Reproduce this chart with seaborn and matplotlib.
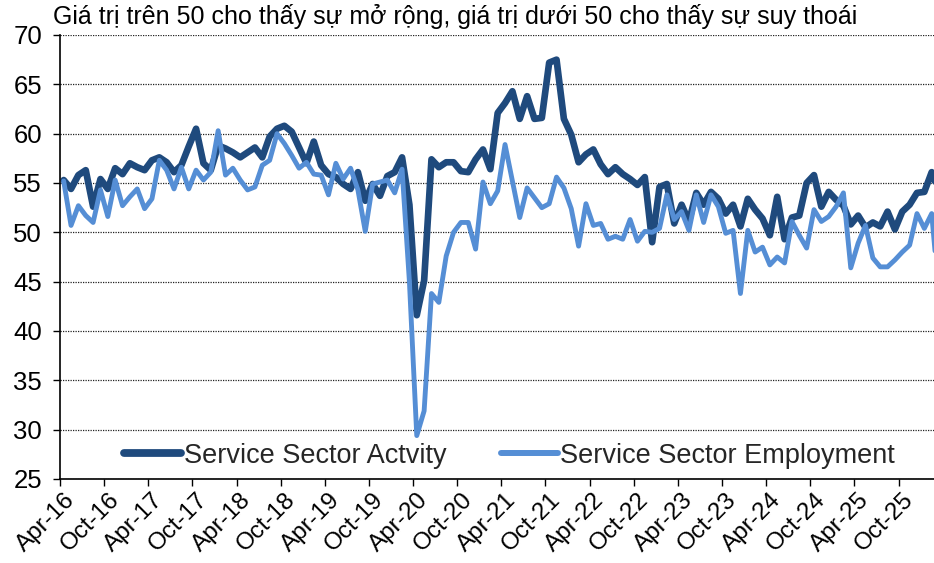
import numpy as np
import pandas as pd
import matplotlib
matplotlib.use("Agg")
import matplotlib.pyplot as plt
import seaborn as sns
from matplotlib.lines import Line2D

# ---------------- data ----------------
months = pd.date_range("2016-04-01", periods=120, freq="MS")
month_labels = [m.strftime("%b-%y") for m in months]

activity = [
    55.3, 54.4, 55.8, 56.3, 52.6, 55.4, 54.4, 56.5, 55.9, 57.0,
    56.6, 56.3, 57.3, 57.6, 57.1, 56.1, 56.8, 58.7, 60.5, 57.0,
    56.3, 58.8, 58.5, 58.1, 57.6, 58.1, 58.6, 57.6, 59.7, 60.5,
    60.8, 60.2, 58.6, 57.0, 59.2, 56.8, 55.9, 55.6, 54.9, 54.4,
    56.1, 53.2, 54.9, 53.7, 55.7, 56.1, 57.6, 52.8, 41.6, 45.1,
    57.4, 56.6, 57.1, 57.1, 56.2, 56.1, 57.4, 58.4, 56.4, 62.1,
    63.1, 64.3, 61.5, 63.8, 61.5, 61.6, 67.2, 67.5, 61.5, 59.9,
    57.1, 57.9, 58.4, 56.9, 55.9, 56.6, 55.9, 55.4, 54.8, 55.6,
    49.0, 54.6, 54.9, 50.9, 52.8, 51.1, 54.0, 52.8, 54.1, 53.4,
    51.9, 52.8, 50.6, 53.4, 52.3, 51.4, 49.7, 53.6, 49.3, 51.5,
    51.7, 55.0, 55.8, 52.6, 54.1, 53.3, 52.7, 50.8, 51.7, 50.5,
    51.0, 50.6, 52.1, 50.3, 52.1, 52.8, 54.0, 54.1, 56.1, 54.0,
]

employment = [
    55.2, 50.7, 52.7, 51.7, 51.0, 54.3, 51.6, 55.3, 52.7, 53.6,
    54.4, 52.4, 53.4, 57.3, 56.3, 54.4, 56.6, 54.4, 56.3, 55.3,
    56.1, 60.3, 55.8, 56.5, 55.3, 54.3, 54.6, 56.8, 57.3, 60.0,
    59.0, 57.8, 56.5, 57.1, 55.9, 55.8, 53.8, 57.0, 55.4, 56.5,
    54.3, 50.1, 54.9, 55.1, 55.3, 54.0, 56.4, 45.0, 29.4, 31.9,
    43.8, 42.9, 47.6, 50.0, 51.0, 51.0, 48.3, 55.1, 52.9, 54.2,
    58.9, 55.2, 51.5, 54.5, 53.5, 52.5, 52.9, 55.6, 54.5, 52.4,
    48.6, 52.9, 50.7, 50.9, 49.3, 49.6, 49.3, 51.3, 49.1, 50.1,
    50.0, 50.4, 53.8, 51.3, 52.1, 50.2, 53.8, 51.0, 53.8, 52.6,
    49.9, 50.2, 43.8, 50.2, 48.0, 48.5, 46.7, 47.5, 46.9, 51.1,
    49.7, 48.4, 52.3, 51.1, 51.6, 52.6, 54.0, 46.4, 48.9, 50.7,
    47.4, 46.5, 46.5, 47.2, 48.0, 48.7, 51.9, 50.4, 51.9, 43.5,
]

series_names = ["Service Sector Actvity", "Service Sector Employment"]
series_colors = ["#1F4A7D", "#558ED5"]
subtitle = "Giá trị trên 50 cho thấy sự mở rộng, giá trị dưới 50 cho thấy sự suy thoái"
y_ticks = [25, 30, 35, 40, 45, 50, 55, 60, 65, 70]

assert len(activity) == len(months) == len(employment)

df = pd.DataFrame({"idx": np.arange(len(months)),
                   series_names[0]: activity,
                   series_names[1]: employment})
long = df.melt(id_vars="idx", var_name="series", value_name="value")

# ---------------- style ----------------
sns.set_theme(style="white")
plt.rcParams["font.family"] = ["Liberation Sans", "DejaVu Sans"]

W, H = 934, 563
fig = plt.figure(figsize=(W / 100, H / 100), dpi=100)
ax = fig.add_axes([60 / W, 1 - 479 / H, 875 / W, 444 / H])

sns.lineplot(data=long, x="idx", y="value", hue="series",
             hue_order=series_names, palette=series_colors,
             ax=ax, legend=False, estimator=None)
widths = [4.8, 3.5]
for ln, lw in zip(ax.lines, widths):
    ln.set_linewidth(lw)
    ln.set_solid_joinstyle("round")
    ln.set_solid_capstyle("round")

ax.set_xlim(-0.5, 118.45)
ax.set_ylim(25, 70)
ax.set_yticks(y_ticks)
ax.set_yticklabels([str(v) for v in y_ticks])
ax.yaxis.grid(True, linestyle=(0, (1, 1)), color="#222222", linewidth=0.9)
ax.xaxis.grid(False)
ax.set_axisbelow(True)

major = list(range(0, 115, 6))
ax.set_xticks(major)
ax.set_xticklabels([month_labels[i] for i in major])
ax.set_xticks([m - 0.5 for m in major], minor=True)
ax.tick_params(axis="x", which="major", length=0, pad=7, labelsize=17.5, colors="black")
ax.tick_params(axis="x", which="minor", length=5, width=1.0, direction="out", color="black", bottom=True)
ax.tick_params(axis="y", which="major", length=5, width=1.0, direction="out", color="black",
               left=True, pad=8, labelsize=18.5, labelcolor="black")
for lab in ax.get_xticklabels():
    lab.set_rotation(45)
    lab.set_ha("right")
    lab.set_va("top")
    lab.set_rotation_mode("anchor")

ax.set_xlabel("")
ax.set_ylabel("")
for s in ["top", "right"]:
    ax.spines[s].set_visible(False)
for s in ["left", "bottom"]:
    ax.spines[s].set_color("black")
    ax.spines[s].set_linewidth(1.2)

handles = [Line2D([], [], color=c, lw=lw + 0.8, solid_capstyle="round")
           for c, lw in zip(series_colors, widths)]
ax.legend(handles, series_names, ncol=2, loc="center",
          bbox_to_anchor=(0.514, 0.052), frameon=False, fontsize=19.5,
          handlelength=2.1, handletextpad=0.1, columnspacing=2.0,
          borderpad=0.1)

fig.text(53 / W, 1 - 24 / H, subtitle, fontsize=18, color="black",
         ha="left", va="baseline")

fig.savefig("out.png", dpi=100)
